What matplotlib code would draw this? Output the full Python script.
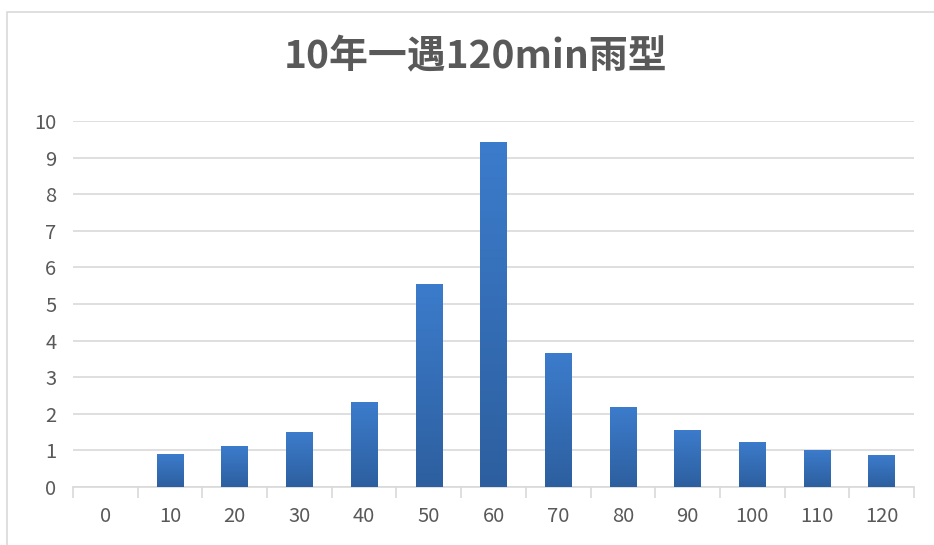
import numpy as np
import matplotlib
matplotlib.use('Agg')
from matplotlib import pyplot as plt
from matplotlib.colors import LinearSegmentedColormap
from matplotlib.patches import Rectangle

plt.rcParams['font.family'] = ['Noto Sans CJK SC', 'DejaVu Sans']

minutes = ['0', '10', '20', '30', '40', '50', '60', '70', '80', '90', '100', '110', '120']
rain = [0, 0.90, 1.11, 1.49, 2.32, 5.55, 9.43, 3.65, 2.18, 1.57, 1.23, 1.02, 0.87]
title = '10年一遇120min雨型'

text_col = '#595959'
grid_col = '#d9d9d9'

fig = plt.figure(figsize=(9.34, 5.45), dpi=100)
# outer chart frame like the office chart
fig.patches.append(Rectangle((7 / 934, -0.1), 1.2, 1 - 12 / 545 + 0.1, transform=fig.transFigure,
                             fill=False, edgecolor='#d9d9d9', linewidth=1.2))
ax = fig.add_axes([73 / 934, 1 - 487 / 545, (914 - 73) / 934, (487 - 121) / 545])

x = np.arange(len(minutes))
bars = ax.bar(x, rain, width=0.41, color='none', edgecolor='none', zorder=3)

# gradient fill, lighter at top
cmap = LinearSegmentedColormap.from_list('bar', ['#2d5f9f', '#3c7ccc'])
grad = np.linspace(0, 1, 256).reshape(-1, 1)
for b in bars:
    if b.get_height() <= 0:
        continue
    x0, w, h = b.get_x(), b.get_width(), b.get_height()
    im = ax.imshow(grad, cmap=cmap, origin='lower', aspect='auto',
                   extent=[x0, x0 + w, 0, h], zorder=3)
    im.set_clip_path(b)

ax.set_xlim(-0.5, len(minutes) - 0.5)
ax.set_ylim(0, 10)
ax.set_yticks(range(0, 11))
ax.yaxis.grid(True, color=grid_col, linewidth=1.2, zorder=0)
ax.set_axisbelow(True)

ax.set_xticks(x)
ax.set_xticklabels(minutes)
ax.set_xticks(np.arange(-0.5, len(minutes)), minor=True)
ax.tick_params(axis='x', which='major', length=0, pad=14, labelsize=14.5, labelcolor=text_col)
ax.tick_params(axis='x', which='minor', length=8, color=grid_col, width=1.2)
ax.tick_params(axis='y', length=0, pad=12, labelsize=14.5, labelcolor=text_col)

for s in ['top', 'right', 'left']:
    ax.spines[s].set_visible(False)
ax.spines['bottom'].set_color(grid_col)
ax.spines['bottom'].set_linewidth(1.2)

fig.text(476 / 934, 1 - 57 / 545, title, ha='center', va='center',
         fontsize=28, fontweight='bold', color=text_col)

fig.savefig('out.png', dpi=100)
